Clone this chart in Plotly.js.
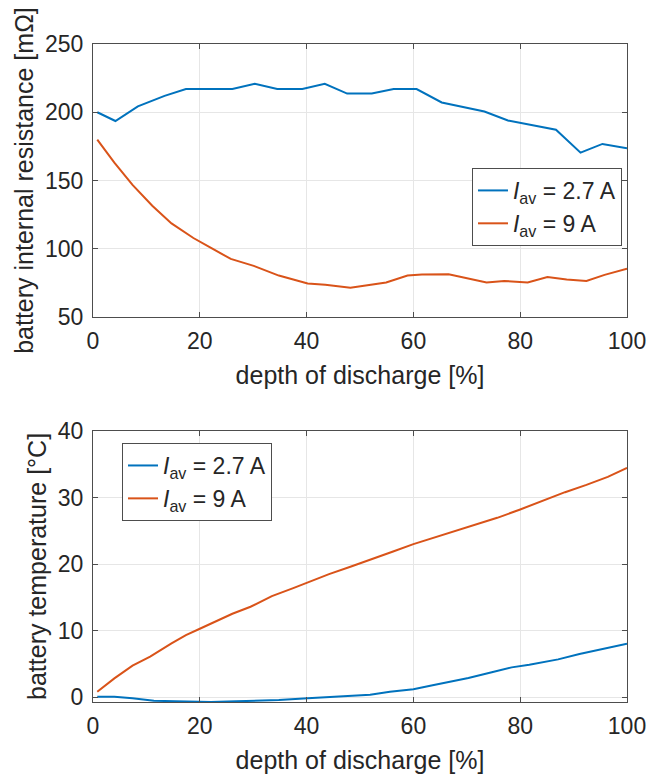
<!DOCTYPE html>
<html>
<head>
<meta charset="utf-8">
<script src="https://cdn.plot.ly/plotly-3.0.1.min.js"></script>
<style>
html, body { margin: 0; padding: 0; background: #ffffff; }
#chart { width: 661px; height: 778px; }
</style>
</head>
<body>
<div id="chart"></div>
<script>
// ---- data ----
var seriesNames = ['<i>I</i><sub>av</sub> = 2.7 A', '<i>I</i><sub>av</sub> = 9 A'];

// top panel: battery internal resistance [mΩ]
var resLowX = [0.8, 4.2, 8.4, 13.4, 17.4, 26.1, 30.3, 34.5, 39.2, 43.4, 47.6, 52.2, 56.3, 60.6, 65.3, 69.3, 73.3, 77.7, 80.4, 83.1, 86.7, 91.3, 95.4, 100];
var resLowY = [200, 193.6, 204.3, 212, 217, 217, 220.8, 217, 217, 220.8, 213.7, 213.7, 217, 217, 207.2, 203.8, 200.6, 194, 191.8, 189.9, 187.2, 170.4, 176.8, 173.6];
var resHighX = [0.8, 4.0, 7.4, 11.1, 14.7, 18.8, 22.1, 25.8, 30.1, 34.8, 40.2, 43.5, 48.2, 51.6, 54.9, 58.9, 61.6, 66.6, 70.3, 73.7, 77.0, 81.4, 85.1, 88.7, 92.4, 95.8, 100];
var resHighY = [180, 163.1, 146.8, 131.5, 118.6, 107.9, 100.6, 92.6, 87.5, 80.4, 74.6, 73.6, 71.4, 73.6, 75.3, 80.4, 81.1, 81.4, 78.2, 75.3, 76.5, 75.3, 79.4, 77.5, 76.5, 80.9, 85.5];

// bottom panel: battery temperature [°C]
var tempLowX = [0.8, 4.0, 7.4, 11.4, 15.4, 20.1, 22.1, 26.8, 30.8, 34.8, 40.2, 44.2, 48.2, 51.9, 55.6, 60, 63.6, 67, 70.3, 74.3, 78.4, 81.7, 84.4, 87.1, 91.1, 95.8, 100];
var tempLowY = [0.1, 0.1, -0.15, -0.5, -0.6, -0.7, -0.7, -0.6, -0.5, -0.4, -0.15, 0.05, 0.25, 0.4, 0.85, 1.2, 1.8, 2.35, 2.9, 3.7, 4.5, 4.9, 5.25, 5.7, 6.5, 7.35, 8.05];
var tempHighX = [0.8, 4.0, 7.4, 10.7, 14.7, 17.4, 20, 22.8, 26.1, 29.5, 33.5, 37.5, 40.2, 44.2, 48.2, 52.2, 56.2, 60, 63.6, 67, 71, 75.7, 80, 84.4, 88.4, 92.4, 96.4, 100];
var tempHighY = [0.85, 2.85, 4.75, 6.1, 8.1, 9.35, 10.3, 11.3, 12.55, 13.6, 15.2, 16.4, 17.25, 18.5, 19.6, 20.7, 21.9, 23, 23.9, 24.85, 25.8, 26.95, 28.2, 29.6, 30.8, 31.9, 33.1, 34.45];

var xTicks = [0, 20, 40, 60, 80, 100];
var resTicks = [50, 100, 150, 200, 250];
var tempTicks = [0, 10, 20, 30, 40];

var xTitle = 'depth of discharge [%]';
var resTitle = 'battery internal resistance [mΩ]';
var tempTitle = 'battery temperature [°C]';

// ---- styles ----
var blue = '#0072BD', orange = '#D95319';
var ink = '#262626';
var fontFam = 'Liberation Sans, Arial, Helvetica, sans-serif';

var traces = [
  {x: resLowX, y: resLowY, name: seriesNames[0], type: 'scatter', mode: 'lines', line: {color: blue, width: 2}, xaxis: 'x', yaxis: 'y', legend: 'legend'},
  {x: resHighX, y: resHighY, name: seriesNames[1], type: 'scatter', mode: 'lines', line: {color: orange, width: 2}, xaxis: 'x', yaxis: 'y', legend: 'legend'},
  {x: tempLowX, y: tempLowY, name: seriesNames[0], type: 'scatter', mode: 'lines', line: {color: blue, width: 2}, xaxis: 'x2', yaxis: 'y2', legend: 'legend2'},
  {x: tempHighX, y: tempHighY, name: seriesNames[1], type: 'scatter', mode: 'lines', line: {color: orange, width: 2}, xaxis: 'x2', yaxis: 'y2', legend: 'legend2'}
];

function axisBase(extra) {
  var a = {
    showline: true, linecolor: '#4d4d4d', linewidth: 1, mirror: 'ticks',
    ticks: 'inside', ticklen: 5, tickwidth: 1, tickcolor: '#4d4d4d',
    showgrid: true, gridcolor: '#e6e6e6', gridwidth: 1, zeroline: false,
    tickfont: {family: fontFam, size: 23, color: ink},
    fixedrange: true
  };
  for (var k in extra) a[k] = extra[k];
  return a;
}

var legendBase = function (x, y, xa) {
  return {
    x: x, y: y, xanchor: xa, yanchor: 'top',
    bgcolor: '#ffffff', bordercolor: '#4d4d4d', borderwidth: 1,
    font: {family: fontFam, size: 23, color: ink},
    tracegroupgap: 0, itemwidth: 30, traceorder: 'normal'
  };
};

var layout = {
  width: 661, height: 778,
  margin: {l: 93, r: 34, t: 44, b: 76},
  paper_bgcolor: '#ffffff', plot_bgcolor: '#ffffff',
  font: {family: fontFam, color: ink},
  showlegend: true,
  xaxis: axisBase({domain: [0, 1], anchor: 'y', range: [0, 100], tickvals: xTicks, ticklabelstandoff: 3,
    title: {text: xTitle, font: {family: fontFam, size: 25, color: ink}, standoff: 13}}),
  yaxis: axisBase({domain: [0.585, 1], anchor: 'x', range: [50, 250], tickvals: resTicks, ticklabelstandoff: 4,
    title: {text: resTitle, font: {family: fontFam, size: 25, color: ink}, standoff: 4}}),
  xaxis2: axisBase({domain: [0, 1], anchor: 'y2', range: [0, 100], tickvals: xTicks, ticklabelstandoff: 3,
    title: {text: xTitle, font: {family: fontFam, size: 25, color: ink}, standoff: 13}}),
  yaxis2: axisBase({domain: [0, 0.412], anchor: 'x2', range: [-0.7, 40], tickvals: tempTicks, ticklabelstandoff: 4,
    title: {text: tempTitle, font: {family: fontFam, size: 25, color: ink}, standoff: 4}}),
  legend: legendBase(0.9906, 0.8116, 'right'),
  legend2: legendBase(0.0543, 0.3936, 'left')
};

Plotly.newPlot('chart', traces, layout, {staticPlot: true, displayModeBar: false});
</script>
</body>
</html>
